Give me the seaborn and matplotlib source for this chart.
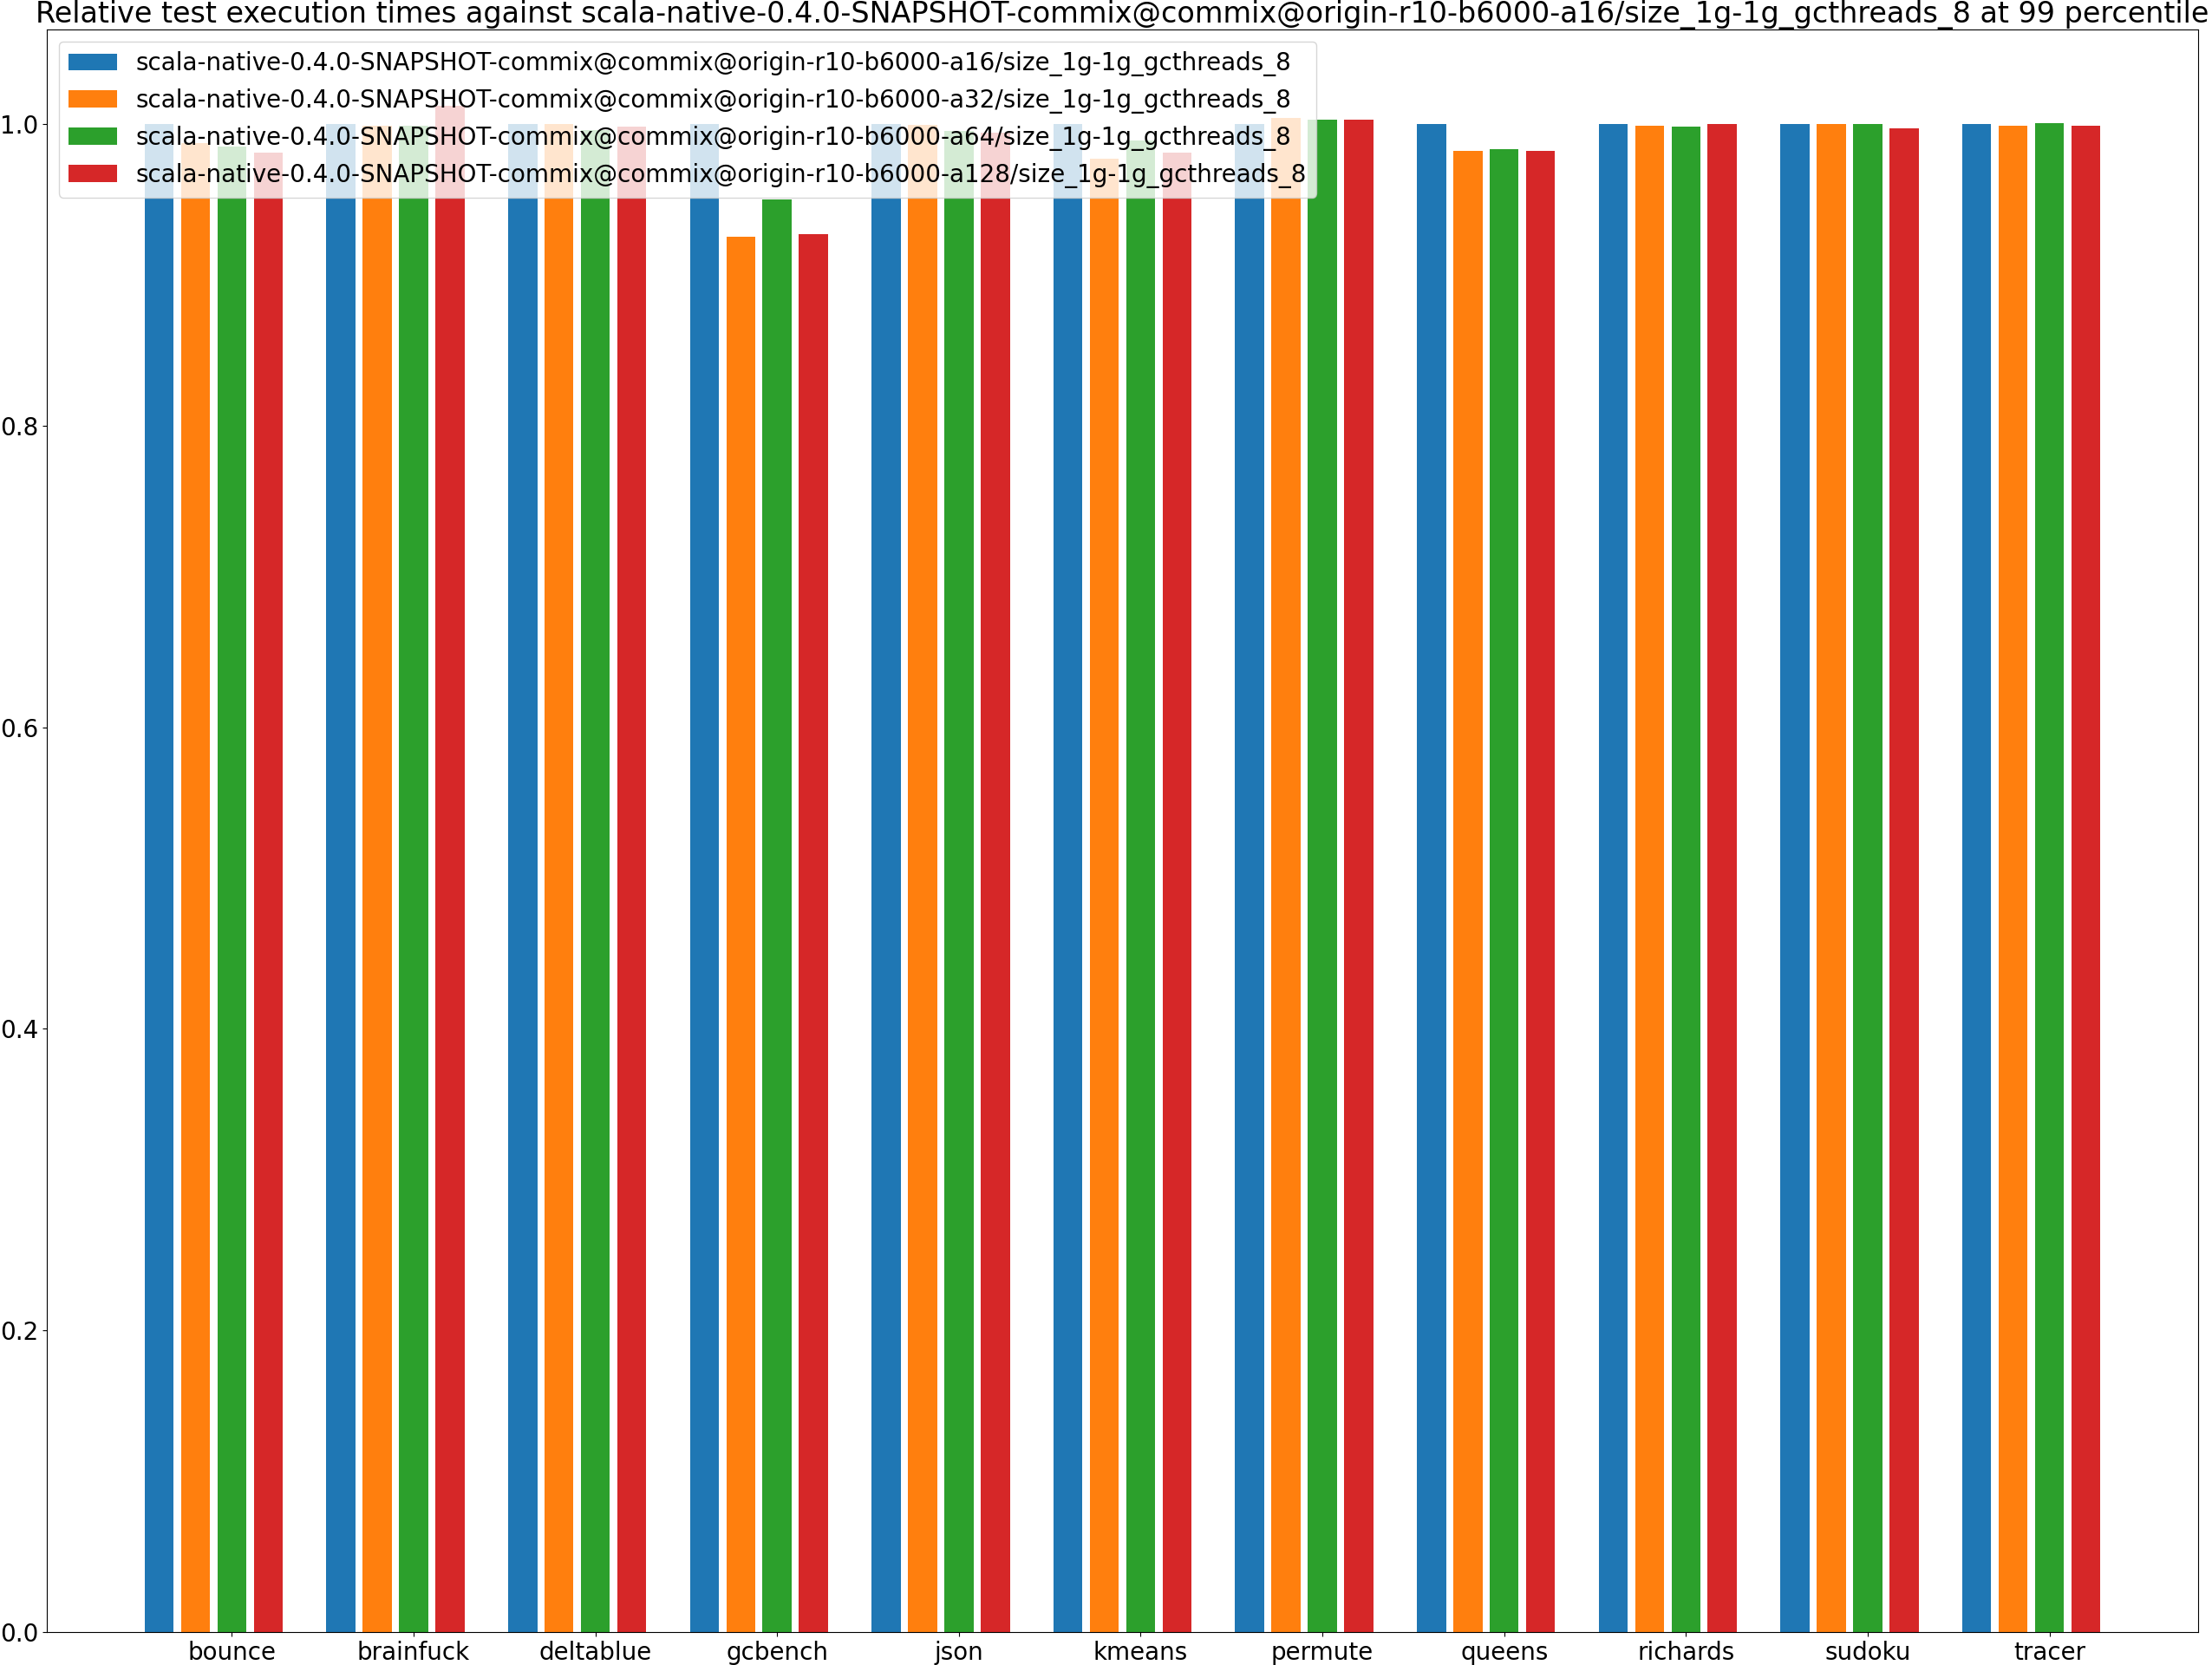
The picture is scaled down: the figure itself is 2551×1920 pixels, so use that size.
import numpy as np
import pandas as pd
import matplotlib
matplotlib.use('Agg')
import matplotlib.pyplot as plt
import seaborn as sns

# benchmarks on the x axis
benchmarks = ['bounce', 'brainfuck', 'deltablue', 'gcbench', 'json', 'kmeans',
              'permute', 'queens', 'richards', 'sudoku', 'tracer']

# configurations compared (legend entries)
configs = [
    'scala-native-0.4.0-SNAPSHOT-commix@commix@origin-r10-b6000-a16/size_1g-1g_gcthreads_8',
    'scala-native-0.4.0-SNAPSHOT-commix@commix@origin-r10-b6000-a32/size_1g-1g_gcthreads_8',
    'scala-native-0.4.0-SNAPSHOT-commix@commix@origin-r10-b6000-a64/size_1g-1g_gcthreads_8',
    'scala-native-0.4.0-SNAPSHOT-commix@commix@origin-r10-b6000-a128/size_1g-1g_gcthreads_8',
]

# relative execution times at 99 percentile
a16 = [1.000, 1.000, 1.000, 1.000, 1.000, 1.000, 1.000, 1.000, 1.000, 1.000, 1.000]
a32 = [0.987, 0.999, 1.000, 0.925, 0.9996, 0.977, 1.004, 0.982, 0.999, 1.000, 0.999]
a64 = [0.985, 0.999, 0.996, 0.950, 0.9955, 0.989, 1.003, 0.983, 0.998, 1.000, 1.0006]
a128 = [0.981, 1.012, 0.998, 0.927, 0.994, 0.981, 1.003, 0.982, 1.000, 0.997, 0.999]

series = [a16, a32, a64, a128]
colors = ['#1f77b4', '#ff7f0e', '#2ca02c', '#d62728']

# long table: each bar sits at benchmark index + offset of its config
rows = []
for j, (name, vals) in enumerate(zip(configs, series)):
    for i, v in enumerate(vals):
        rows.append({'pos': round(i + (j - 2) * 0.2, 6), 'value': v, 'config': name})
df = pd.DataFrame(rows)

fig = plt.figure(figsize=(25.51, 19.2), dpi=100)
ax = fig.add_axes([54 / 2551, 1 - 1882 / 1920, (2535 - 54) / 2551, (1882 - 34) / 1920])

sns.barplot(data=df, x='pos', y='value', hue='config', hue_order=configs,
            palette=colors, native_scale=True, dodge=False, width=0.8,
            errorbar=None, saturation=1, ax=ax)

ax.set_xticks(range(len(benchmarks)))
ax.set_xticklabels(benchmarks, fontsize=20)
ax.tick_params(axis='y', labelsize=20)
ax.set_xlabel('')
ax.set_ylabel('')
ax.set_title('Relative test execution times against ' + configs[0] + ' at 99 percentile',
             fontsize=24)
ax.legend(loc='upper left', fontsize=20)

fig.savefig('out.png', dpi=100)
